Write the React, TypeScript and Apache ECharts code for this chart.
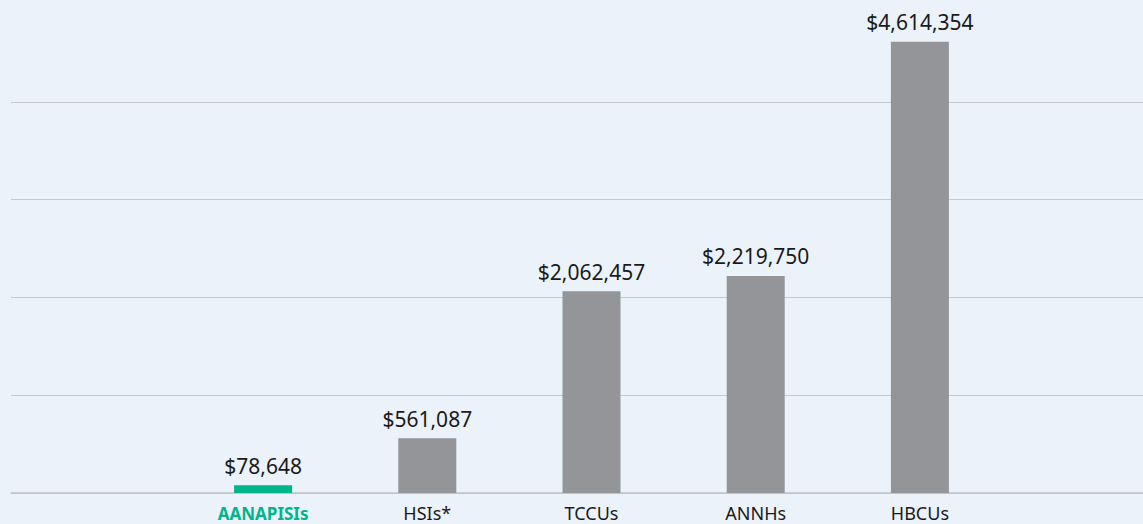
import React, { useEffect, useRef } from "react";
import * as echarts from "echarts";

const categories = ["AANAPISIs", "HSIs*", "TCCUs", "ANNHs", "HBCUs"];
const values = [78648, 561087, 2062457, 2219750, 4614354];
const highlight = "AANAPISIs";

export default function App() {
  const ref = useRef<HTMLDivElement>(null);
  useEffect(() => {
    const chart = echarts.init(ref.current!, null, { renderer: "svg" });
    const font = "'Noto Sans', 'Open Sans', sans-serif";
    const lineColor = "#c6cace";
    chart.setOption({
      animation: false,
      backgroundColor: "#ebf2fa",
      grid: [
        { left: 11, right: 0, top: 4, bottom: 31 },
        { left: 181, right: 141, top: 4, bottom: 31 },
      ],
      xAxis: [
        {
          gridIndex: 0,
          type: "category",
          data: [""],
          axisLine: { show: true, lineStyle: { color: "#bfc3c8", width: 1.5 } },
          axisTick: { show: false },
          axisLabel: { show: false },
        },
        {
          gridIndex: 1,
          type: "category",
          data: categories,
          axisLine: { show: false },
          axisTick: { show: false },
          axisLabel: {
            interval: 0,
            hideOverlap: false,
            margin: 10,
            fontFamily: font,
            fontSize: 18,
            lineHeight: 20,
            color: "#1a1a1a",
            formatter: (v: string) => (v === highlight ? "{hl|" + v + "}" : v),
            rich: {
              hl: {
                fontFamily: font,
                fontSize: 17,
                lineHeight: 20,
                fontWeight: "bold",
                color: "#00b48b",
              },
            },
          },
        },
      ],
      yAxis: [
        {
          gridIndex: 0,
          type: "value",
          min: 0,
          max: 5000000,
          interval: 1000000,
          axisLine: { show: false },
          axisTick: { show: false },
          axisLabel: { show: false },
          splitLine: {
            show: true,
            lineStyle: {
              color: [lineColor, lineColor, lineColor, lineColor, lineColor, "rgba(0,0,0,0)"],
              width: 1.2,
            },
          },
        },
        {
          gridIndex: 1,
          type: "value",
          min: 0,
          max: 5000000,
          interval: 1000000,
          axisLine: { show: false },
          axisTick: { show: false },
          axisLabel: { show: false },
          splitLine: { show: false },
        },
      ],
      series: [
        {
          type: "bar",
          xAxisIndex: 1,
          yAxisIndex: 1,
          barWidth: 58,
          data: values.map((v, i) => ({
            value: v,
            itemStyle: { color: categories[i] === highlight ? "#00b48b" : "#939598" },
          })),
          label: {
            show: true,
            position: "top",
            distance: 9,
            fontFamily: font,
            fontSize: 21,
            color: "#1a1a1a",
            formatter: (p: any) => "$" + Number(p.value).toLocaleString("en-US"),
          },
        },
      ],
    });
    return () => chart.dispose();
  }, []);
  return (
    <div
      ref={ref}
      style={{ position: "absolute", left: 0, top: 0, width: 1143, height: 524 }}
    />
  );
}
